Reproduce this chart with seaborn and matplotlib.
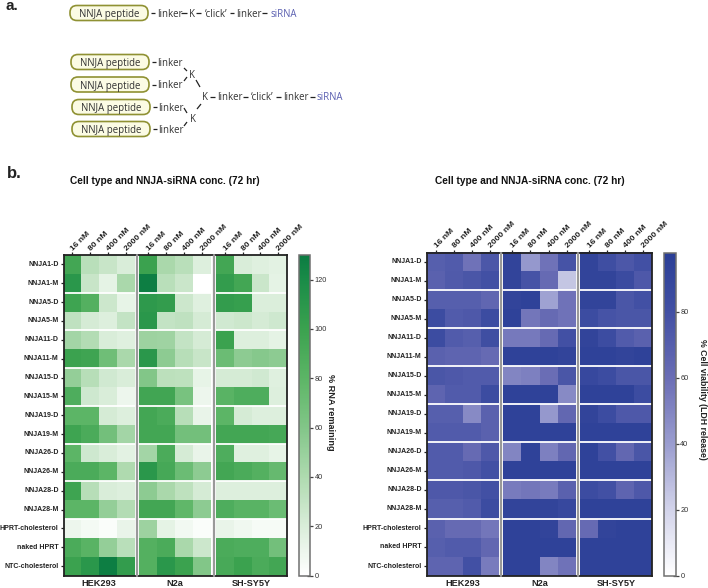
import matplotlib
matplotlib.use("Agg")
import matplotlib.pyplot as plt
import numpy as np
import seaborn as sns
from matplotlib.colors import LinearSegmentedColormap
from matplotlib.lines import Line2D
from matplotlib.patches import FancyBboxPatch

W, H = 708, 588
rows = ["NNJA1-D", "NNJA1-M", "NNJA5-D", "NNJA5-M", "NNJA11-D", "NNJA11-M", "NNJA15-D", "NNJA15-M",
        "NNJA19-D", "NNJA19-M", "NNJA26-D", "NNJA26-M", "NNJA28-D", "NNJA28-M",
        "HPRT-cholesterol", "naked HPRT", "NTC-cholesterol"]
concs = ["16 nM", "80 nM", "400 nM", "2000 nM"]
cells = ["HEK293", "N2a", "SH-SY5Y"]

rna_hek = [[95, 35, 28, 20], [110, 28, 14, 42], [98, 85, 26, 13], [32, 22, 18, 30], [45, 38, 20, 17],
           [100, 97, 70, 42], [52, 36, 24, 20], [88, 25, 20, 10], [80, 80, 22, 18], [98, 90, 68, 45],
           [80, 25, 20, 15], [90, 90, 80, 40], [98, 36, 20, 18], [80, 80, 52, 38], [10, 6, 3, 12],
           [90, 82, 52, 35], [100, 110, 128, 105]]
rna_n2a = [[100, 42, 35, 18], [128, 35, 27, 0], [108, 105, 26, 17], [110, 30, 32, 22], [48, 47, 30, 22],
           [110, 55, 36, 28], [60, 34, 33, 13], [96, 96, 65, 10], [95, 90, 36, 12], [95, 95, 68, 68],
           [45, 90, 22, 12], [110, 93, 72, 55], [55, 42, 33, 22], [95, 95, 78, 55], [48, 14, 7, 3],
           [85, 90, 42, 26], [85, 110, 100, 60]]
rna_shsy = [[95, 20, 17, 15], [105, 95, 27, 14], [105, 103, 19, 19], [24, 26, 22, 25], [100, 18, 18, 14],
            [72, 55, 58, 55], [22, 22, 24, 17], [82, 88, 88, 18], [80, 22, 18, 18], [95, 95, 95, 93],
            [88, 17, 17, 13], [95, 90, 85, 75], [18, 18, 18, 18], [88, 82, 82, 72], [12, 8, 5, 5],
            [90, 88, 88, 68], [92, 100, 90, 95]]
ldh_hek = [[70, 72, 58, 75], [68, 73, 76, 80], [70, 70, 70, 65], [84, 72, 74, 84], [84, 72, 70, 82],
           [68, 66, 66, 62], [76, 74, 72, 72], [66, 72, 72, 84], [70, 70, 48, 68], [72, 72, 72, 68],
           [72, 72, 62, 74], [72, 72, 74, 80], [74, 74, 76, 80], [70, 70, 72, 84], [68, 62, 62, 56],
           [70, 72, 72, 64], [66, 66, 80, 54]]
ldh_n2a = [[92, 42, 58, 78], [92, 78, 62, 25], [92, 94, 38, 58], [94, 56, 62, 58], [55, 55, 62, 80],
           [94, 94, 94, 92], [50, 52, 60, 76], [94, 94, 94, 48], [94, 94, 42, 64], [94, 94, 94, 94],
           [50, 94, 52, 64], [94, 94, 94, 94], [54, 56, 54, 68], [92, 92, 92, 88], [94, 94, 92, 64],
           [94, 94, 94, 94], [94, 94, 50, 58]]
ldh_shsy = [[92, 82, 75, 80], [92, 92, 85, 74], [92, 92, 76, 80], [84, 78, 76, 76], [92, 84, 72, 68],
            [94, 94, 92, 94], [88, 84, 76, 76], [94, 94, 94, 84], [92, 84, 74, 74], [94, 94, 94, 94],
            [94, 80, 64, 76], [94, 94, 94, 94], [84, 80, 66, 74], [94, 94, 94, 94], [62, 92, 94, 94],
            [94, 94, 94, 94], [94, 94, 94, 94]]

rna_ticks = [0, 20, 40, 60, 80, 100, 120]
ldh_ticks = [0, 20, 40, 60, 80]
rna_max = 130
ldh_max = 98

sns.set_theme(style="white")
plt.rcParams["font.family"] = ["Liberation Sans", "DejaVu Sans"]
fig = plt.figure(figsize=(W / 100, H / 100), dpi=100)

green = LinearSegmentedColormap.from_list("g", [(0, "#ffffff"), (20 / 130, "#d9edd9"), (40 / 130, "#aedaaf"),
                                                (60 / 130, "#82c688"), (80 / 130, "#5cb566"), (100 / 130, "#3ba24f"),
                                                (120 / 130, "#1a8c48"), (1, "#0b7c42")])
blue = LinearSegmentedColormap.from_list("b", [(0, "#ffffff"), (20 / 98, "#d2d3ea"), (40 / 98, "#9a9dcf"),
                                               (60 / 98, "#6a6db5"), (80 / 98, "#4250a4"), (1, "#2a3e96")])


def axpx(x0, y0, x1, y1, **kw):
    return fig.add_axes([x0 / W, 1 - y1 / H, (x1 - x0) / W, (y1 - y0) / H], **kw)


def panel(data, groups, top, bottom, cmap, vmax, cbx, ticks, label, labelx, labely, labelsize):
    for i, (d, g, name) in enumerate(zip(data, groups, cells)):
        ax = axpx(g[0], top, g[1], bottom)
        cb = i == 2
        cax = axpx(cbx[0], top, cbx[1], bottom) if cb else None
        sns.heatmap(np.array(d, float), ax=ax, cmap=cmap, vmin=0, vmax=vmax, cbar=cb, cbar_ax=cax,
                    xticklabels=concs, yticklabels=rows if i == 0 else False)
        ax.xaxis.tick_top()
        ax.tick_params(axis="x", length=2.5, width=0.9, color="#222222", pad=1.5, top=True, bottom=False)
        plt.setp(ax.get_xticklabels(), rotation=45, ha="left", va="center", rotation_mode="anchor", fontsize=6.1,
                 fontweight="bold", color="#222222")
        if i == 0:
            ax.tick_params(axis="y", length=2.5, width=0.9, color="#222222", pad=1, left=True)
            plt.setp(ax.get_yticklabels(), rotation=0, fontsize=5.0, fontweight="bold", color="#222222")
        ax.set_xlabel(name, fontsize=6.6, fontweight="bold", labelpad=2.5, color="#222222")
        for r in range(2, 15, 2):
            ax.axhline(r, color="white", lw=1.3)
        if cb:
            c = ax.collections[0].colorbar
            c.set_ticks(ticks)
            c.ax.tick_params(length=4, width=0.9, direction="inout", color="#444444", labelsize=5.3,
                             labelcolor="#333333", pad=1.5, right=True)
            c.outline.set_edgecolor("#707070")
            c.outline.set_linewidth(1.1)
            c.outline.set_visible(True)
    frame = axpx(groups[0][0], top, groups[2][1], bottom)
    frame.patch.set_alpha(0)
    frame.set_xticks([])
    frame.set_yticks([])
    for s in frame.spines.values():
        s.set_visible(True)
        s.set_color("#222222")
        s.set_linewidth(1.3)
    for a, b in zip(groups[:-1], groups[1:]):
        xm = (a[1] + b[0]) / 2
        fig.add_artist(Line2D([xm / W] * 2, [1 - top / H, 1 - bottom / H], color="#999999", lw=1.6))
    fig.text(labelx / W, 1 - labely / H, label, rotation=270, ha="center", va="center",
             fontsize=labelsize, fontweight="bold", color="#222222")


panel([rna_hek, rna_n2a, rna_shsy], [(63.5, 135), (139, 211), (216, 287)], 255, 575.5, green, rna_max,
      (298.5, 310), rna_ticks, "% RNA remaining", 331, 412, 6.6)
panel([ldh_hek, ldh_n2a, ldh_shsy], [(426.5, 499), (503, 576), (580, 652)], 252.5, 575.5, blue, ldh_max,
      (663.5, 675.5), ldh_ticks, "% Cell viability (LDH release)", 702, 399, 6.3)

fig.text(165 / W, 1 - 181 / H, "Cell type and NNJA-siRNA conc. (72 hr)", ha="center", va="center",
         fontsize=7.3, fontweight="bold", color="#111111")
fig.text(530 / W, 1 - 181 / H, "Cell type and NNJA-siRNA conc. (72 hr)", ha="center", va="center",
         fontsize=7.3, fontweight="bold", color="#111111")
fig.text(6 / W, 1 - 6 / H, "a.", ha="left", va="center", fontsize=11, fontweight="bold", color="#222222")
fig.text(7 / W, 1 - 174 / H, "b.", ha="left", va="center", fontsize=12, fontweight="bold", color="#222222")

# Panel a schematic, in pixel coordinates on a full-figure overlay
ov = axpx(0, 0, W, H)
ov.set_xlim(0, W)
ov.set_ylim(H, 0)
ov.axis("off")
ov.patch.set_alpha(0)
dark = "#333333"
SF = "Open Sans"


def t(x, y, s, color=dark, ha="left"):
    ov.text(x, y, s, fontsize=6.9, family=SF, color=color, ha=ha, va="center_baseline")


def seg(x0, y0, x1, y1):
    ov.plot([x0, x1], [y0, y1], color="#222222", lw=0.9, solid_capstyle="butt")


def pep(x0, x1, y):
    ov.add_patch(FancyBboxPatch((x0 + 7, y - 0.5), x1 - x0 - 14, 1, boxstyle="round,pad=7,rounding_size=7",
                                fc="#fbfbe4", ec="#8f9133", lw=1.2))
    t((x0 + x1) / 2, y, "NNJA peptide", ha="center")


siRNA = "#5a5fb0"
pep(70, 148, 13)
seg(151, 13, 155, 13)
t(157, 13, "linker")
seg(181, 13, 187, 13)
t(189, 13, "K")
seg(196, 13, 201, 13)
t(205, 13, "\u2018click\u2019")
seg(230, 13, 234, 13)
t(236, 13, "linker")
seg(262, 13, 267, 13)
t(271, 13, "siRNA", color=siRNA)
for (xa, xb, y) in [(71, 149, 62), (71, 149, 84.5), (72, 150, 107), (72, 150, 129)]:
    pep(xa, xb, y)
    seg(xb + 3, y, xb + 7, y)
    t(xb + 8, y, "linker")
t(189, 73.5, "K")
t(190, 118, "K")
t(202, 96.5, "K")
seg(184, 68, 187, 71)
seg(184, 81, 187, 77)
seg(196, 80, 200, 87)
seg(197, 109, 201, 104)
seg(184, 108, 187, 113)
seg(184, 126, 187, 122)
seg(210, 96.5, 215, 96.5)
t(217, 96.5, "linker")
seg(243, 96.5, 248, 96.5)
t(251, 96.5, "\u2018click\u2019")
seg(276, 96.5, 281, 96.5)
t(283, 96.5, "linker")
seg(310, 96.5, 315, 96.5)
t(317, 96.5, "siRNA", color=siRNA)

fig.savefig("out.png", dpi=100)
